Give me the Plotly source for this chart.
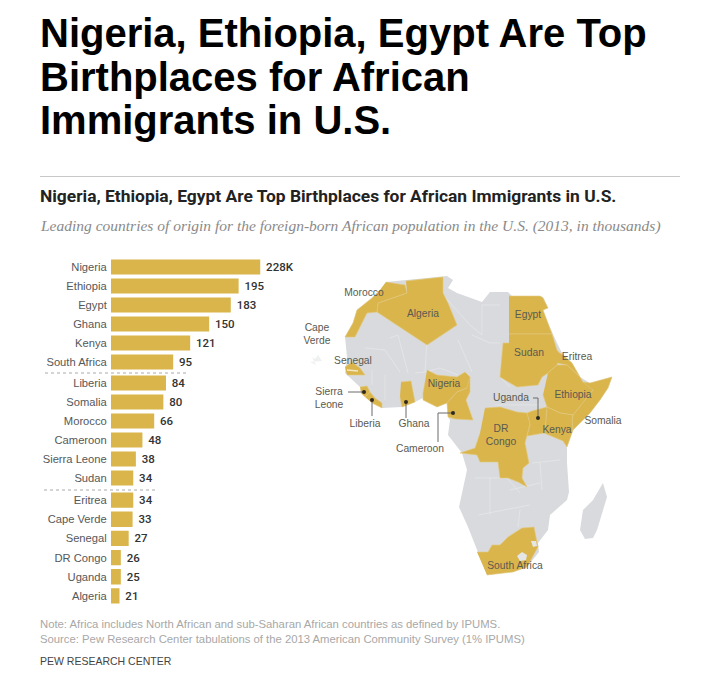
import plotly.graph_objects as go

W, H = 720, 678

# ---- bar data (thousands) ----
group1 = ["Nigeria", "Ethiopia", "Egypt", "Ghana", "Kenya", "South Africa"]
group1_bars = [228, 195, 183, 150, 121, 95]
group1_labels = ["228K", "195", "183", "150", "121", "95"]
group2 = ["Liberia", "Somalia", "Morocco", "Cameroon", "Sierra Leone", "Sudan"]
group2_bars = [84, 80, 66, 48, 38, 34]
group2_labels = ["84", "80", "66", "48", "38", "34"]
group3 = ["Eritrea", "Cape Verde", "Senegal", "DR Congo", "Uganda", "Algeria"]
group3_bars = [34, 33, 27, 15, 15, 13]  # bar lengths as drawn in the source
group3_labels = ["34", "33", "27", "26", "25", "21"]

# ---- map outlines (map units) ----
africa_x = [386,407,442,447,453,448,457,473,482,490,508,513,540,543,548,543,548,557,563,572,580,590,612,608,600,590,573,567,567,569,567,550,548,538,539,527,513,487,478,468,459,462,467,462,448,450,448,447,437,423,415,402,382,360,345,347,345,353,357,372,380]
africa_y = [282,280,276,276,280,288,293,299,302,292,292,297,296,297,308,310,323,343,355,363,377,383,377,388,400,413,430,447,463,492,500,515,530,543,552,567,572,575,553,527,507,492,470,453,435,420,417,403,407,398,402,407,408,387,373,357,337,323,310,298,290]
madagascar_x = [603,607,597,593,585,580,583,593]
madagascar_y = [483,497,530,538,539,530,510,500]
algeria_x = [406,443,443,448,457,427,377,378,407]
algeria_y = [281,277,293,303,325,345,312,303,293]
morocco_x = [386,405,407,378,377,367,355,345,353,357,372,380]
morocco_y = [282,285,293,303,312,313,337,337,323,310,298,290]
egypt_x = [509,540,543,548,543,552,509]
egypt_y = [296,296,298,308,310,334,334]
sudan_x = [509,552,557,561,557,548,542,538,517,500,503,509]
sudan_y = [334,334,350,355,365,373,377,385,387,377,343,343]
eritrea_x = [558,563,572,580,567,557]
eritrea_y = [352,355,363,377,365,363]
ethiopia_x = [548,557,567,580,583,593,583,573,560,547,543]
ethiopia_y = [373,365,365,377,382,390,403,415,413,407,395]
somalia_x = [583,590,612,608,600,590,573,572,573,583,593]
somalia_y = [382,383,377,388,400,413,430,420,415,403,390]
kenya_x = [547,560,573,572,573,567,563,544,546]
kenya_y = [407,413,415,420,430,447,441,433,420]
uganda_x = [527,532,547,546,544,527,530]
uganda_y = [413,411,407,420,433,436,424]
drcongo_x = [485,500,517,527,530,527,525,529,523,522,527,518,508,500,498,480,477,460,475,480]
drcongo_y = [408,407,412,413,424,436,443,463,468,478,487,482,478,478,462,462,455,453,448,433]
nigeria_x = [427,437,457,465,470,467,457,447,437,423,423,425]
nigeria_y = [370,375,377,372,377,388,392,403,407,400,393,382]
cameroon_x = [470,470,466,473,455,448,447,457,467]
cameroon_y = [377,392,400,420,419,417,403,392,388]
ghana_x = [401,411,415,402,400]
ghana_y = [382,381,402,407,397]
sierra_x = [360,367,370,365,361]
sierra_y = [387,386,392,397,393]
liberia_x = [365,370,375,382,382,372]
liberia_y = [397,392,398,403,408,403]
senegal_x = [345,352,360,365,347]
senegal_y = [367,362,368,375,375]
southafrica_x = [477,488,492,500,508,522,534,537,538,527,513,487]
southafrica_y = [552,552,545,545,537,528,527,540,547,567,572,575]
lesotho_x = [517,522,527,526,520]
lesotho_y = [556,552,555,560,561]
swaziland_x = [531,536,537,533]
swaziland_y = [541,541,546,547]
capeverde_x = [312,315,318,322,310,316]
capeverde_y = [357,359,355,361,362,365]

# faint borders between the grey countries
border_x = [390,398,408,None,415,425,427,None,443,470,482,None,482,482,500,None,500,490,472,None,458,472,None,425,440,458,None,
            510,500,None,495,540,None,475,507,520,None,490,490,None,478,530,None,532,560,None,540,542,None,510,540,None,518,520,None,
            365,385,400,None,372,372,None,385,385,None]
border_y = [338,335,373,None,373,372,342,None,295,325,335,None,335,305,305,None,343,343,335,None,340,372,None,372,368,375,None,
            387,377,None,405,405,None,478,478,493,None,478,515,None,515,505,None,463,460,None,463,490,None,490,483,None,527,510,None,
            348,350,372,None,370,385,None,375,400,None]
# thin strip for the Gambia inside Senegal
gambia_x = [347,358]
gambia_y = [370,371]

# callouts
callout_x = [348,364,None,372,372,None,406,406,None,453,438,438,None,533,538,538]
callout_y = [392,392,None,400,416,None,402,418,None,413,413,442,None,398,398,418]
dot_x = [364,372,406,453,538]
dot_y = [392,400,402,413,418]

map_names = ["Morocco","Algeria","Egypt","Sudan","Eritrea","Cape<br>Verde","Senegal","Nigeria","Ethiopia",
             "Uganda","Somalia","Kenya","DR<br>Congo","Sierra<br>Leone","Liberia","Ghana","Cameroon","South Africa"]
map_name_x = [364,423,528,529,577,317,353,444,573,511,603,557,501,329,365,414,420,515]
map_name_y = [293,314,315,353,357,335,361,384,395,398,421,430,436,399,424,424,449,566]

GOLD = "#dab54c"
GREY = "#d8dadd"
TXT = "#55585a"
SANS = "Liberation Sans, Arial, sans-serif"

fig = go.Figure()

def py(p):
    return 1 - p / H

# ---- bars ----
for cats, vals, labels, ya in [(group1, group1_bars, group1_labels, "y"),
                               (group2, group2_bars, group2_labels, "y2"),
                               (group3, group3_bars, group3_labels, "y3")]:
    fig.add_trace(go.Bar(x=vals, y=cats, orientation="h", xaxis="x", yaxis=ya,
                         marker=dict(color=GOLD, line_width=0), width=0.8,
                         text=labels, texttemplate=" %{text}", textposition="outside", cliponaxis=False,
                         textfont=dict(family="Roboto", size=11.5, color="#333333", weight=500),
                         hoverinfo="skip", showlegend=False))

# ---- map ----
def poly(x, y, color):
    fig.add_trace(go.Scatter(x=x, y=y, mode="lines", fill="toself", fillcolor=color,
                             line=dict(color=color, width=0), xaxis="x2", yaxis="y4",
                             hoverinfo="skip", showlegend=False))

poly(africa_x, africa_y, GREY)
poly(madagascar_x, madagascar_y, GREY)
poly(capeverde_x, capeverde_y, "#eef0f1")
fig.add_trace(go.Scatter(x=border_x, y=border_y, mode="lines", line=dict(color="#e5e7e9", width=0.8),
                         xaxis="x2", yaxis="y4", hoverinfo="skip", showlegend=False))
for px_, py_ in [(algeria_x, algeria_y), (morocco_x, morocco_y), (egypt_x, egypt_y), (sudan_x, sudan_y),
                 (eritrea_x, eritrea_y), (ethiopia_x, ethiopia_y), (somalia_x, somalia_y), (kenya_x, kenya_y),
                 (uganda_x, uganda_y), (drcongo_x, drcongo_y), (nigeria_x, nigeria_y), (cameroon_x, cameroon_y),
                 (ghana_x, ghana_y), (sierra_x, sierra_y), (liberia_x, liberia_y), (senegal_x, senegal_y),
                 (southafrica_x, southafrica_y)]:
    fig.add_trace(go.Scatter(x=px_, y=py_, mode="lines", fill="toself", fillcolor=GOLD,
                             line=dict(color="#e3c97f", width=0.6), xaxis="x2", yaxis="y4",
                             hoverinfo="skip", showlegend=False))
poly(lesotho_x, lesotho_y, "#e4e6e8")
poly(swaziland_x, swaziland_y, "#e4e6e8")
fig.add_trace(go.Scatter(x=gambia_x, y=gambia_y, mode="lines", line=dict(color="#f3e7c4", width=1.5),
                         xaxis="x2", yaxis="y4", hoverinfo="skip", showlegend=False))
fig.add_trace(go.Scatter(x=callout_x, y=callout_y, mode="lines", line=dict(color="#6a6a6a", width=1),
                         xaxis="x2", yaxis="y4", hoverinfo="skip", showlegend=False))
fig.add_trace(go.Scatter(x=dot_x, y=dot_y, mode="markers", marker=dict(color="#2e2a1e", size=4),
                         xaxis="x2", yaxis="y4", hoverinfo="skip", showlegend=False))
fig.add_trace(go.Scatter(x=map_name_x, y=map_name_y, text=map_names, mode="text", xaxis="x2", yaxis="y4",
                         textposition="middle center", cliponaxis=False,
                         textfont=dict(family=SANS, size=10.3, color="#5a5a50"),
                         hoverinfo="skip", showlegend=False))

# ---- axes ----
yaxis_common = dict(autorange="reversed", type="category", anchor="x", showgrid=False, showline=False,
                    zeroline=False, ticks="outside", ticklen=1, tickcolor="rgba(0,0,0,0)",
                    tickfont=dict(family=SANS, size=11.2, color=TXT))
fig.update_layout(
    width=W, height=H, margin=dict(l=0, r=0, t=0, b=0), paper_bgcolor="white", plot_bgcolor="rgba(0,0,0,0)",
    barmode="overlay", showlegend=False,
    xaxis=dict(domain=[111 / W, 311 / W], range=[0, 200 / 0.6545], visible=False, anchor="y"),
    yaxis=dict(domain=[py(371.5), py(257.5)], categoryorder="array", categoryarray=group1, **yaxis_common),
    yaxis2=dict(domain=[py(487.5), py(373.5)], categoryorder="array", categoryarray=group2, **yaxis_common),
    yaxis3=dict(domain=[py(605.5), py(490.5)], categoryorder="array", categoryarray=group3, **yaxis_common),
    xaxis2=dict(domain=[300 / W, 640 / W], range=[300, 640], visible=False, anchor="y4"),
    yaxis4=dict(domain=[py(610), py(260)], range=[610, 260], visible=False, anchor="x2"),
)

def note(text, x, y, size, color, family=SANS, weight=None, style=None):
    fig.add_annotation(text=text, x=x / W, y=py(y), xref="paper", yref="paper", xanchor="left", yanchor="middle",
                       showarrow=False, align="left",
                       font=dict(family=family, size=size, color=color, weight=weight, style=style))

HEAD = "Liberation Sans"
note("Nigeria, Ethiopia, Egypt Are Top", 38, 33, 40, "#000000", HEAD, 700)
note("Birthplaces for African", 38, 77, 40, "#000000", HEAD, 700)
note("Immigrants in U.S.", 38, 120, 40, "#000000", HEAD, 700)
note("Nigeria, Ethiopia, Egypt Are Top Birthplaces for African Immigrants in U.S.", 38, 196, 17.4, "#222222", "Roboto", 700)
note("Leading countries of origin for the foreign-born African population in the U.S. (2013, in thousands)",
     38, 226, 15.5, "#8a8a8a", "Liberation Serif", None, "italic")
note("Note: Africa includes North African and sub-Saharan African countries as defined by IPUMS.", 38, 624, 11.3, "#a8a8a8")
note("Source: Pew Research Center tabulations of the 2013 American Community Survey (1% IPUMS)", 38, 639, 11.3, "#a8a8a8")
note("PEW RESEARCH CENTER", 38, 661, 10.5, "#444444")

fig.add_shape(type="line", xref="paper", yref="paper", x0=40 / W, x1=680 / W, y0=py(176.5), y1=py(176.5),
              line=dict(color="#c8c8c8", width=1))
for x0, x1, y0 in [(45, 188, 373), (44, 158, 490)]:
    fig.add_shape(type="line", xref="paper", yref="paper", x0=x0 / W, x1=x1 / W, y0=py(y0), y1=py(y0),
                  line=dict(color="#aaaaaa", width=1, dash="dot"))

fig.write_html("out.html", config={"displayModeBar": False},
               post_script="document.body.style.margin='0';document.body.style.overflow='hidden';")
